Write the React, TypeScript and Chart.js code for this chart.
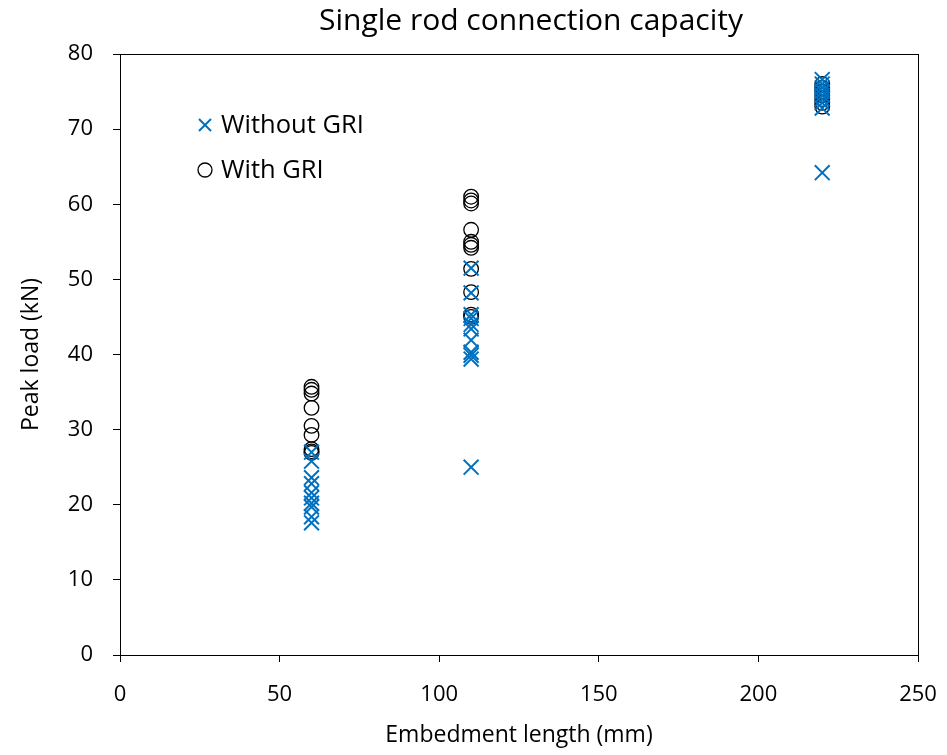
import React, { useEffect, useRef } from "react";
import { Chart, registerables } from "chart.js";

Chart.register(...registerables);

const TITLE = "Single rod connection capacity";
const X_TITLE = "Embedment length (mm)";
const Y_TITLE = "Peak load (kN)";

const SERIES_NAMES = ["Without GRI", "With GRI"];

const withoutX = [
  60, 60, 60, 60, 60, 60, 60, 60, 60, 60,
  110, 110, 110, 110, 110, 110, 110, 110, 110, 110, 110,
  220, 220, 220, 220, 220, 220, 220, 220, 220,
];
const withoutY = [
  27.0, 25.8, 23.6, 22.8, 21.6, 20.9, 20.2, 19.7, 18.4, 17.6,
  51.5, 48.2, 45.3, 44.8, 44.0, 43.4, 41.9, 40.3, 39.9, 39.4, 25.0,
  76.6, 76.0, 75.5, 75.0, 74.5, 74.0, 73.5, 72.8, 64.2,
];

const withX = [
  60, 60, 60, 60, 60, 60, 60, 60, 60,
  110, 110, 110, 110, 110, 110, 110, 110, 110, 110, 110,
  220, 220, 220, 220, 220, 220, 220,
];
const withY = [
  35.7, 35.3, 34.8, 32.9, 30.5, 29.3, 27.4, 27.1, 26.9,
  61.0, 60.5, 60.1, 56.6, 55.0, 54.6, 54.2, 51.4, 48.3, 45.3, 45.0,
  76.0, 75.5, 75.0, 74.5, 74.0, 73.5, 73.0,
];

const BLUE = "rgb(0,112,192)";
const FONT = "'Open Sans', 'Noto Sans', sans-serif";

export default function App() {
  const ref = useRef<HTMLCanvasElement | null>(null);

  useEffect(() => {
    if (!ref.current) return;
    const toPts = (xs: number[], ys: number[]) => xs.map((x, i) => ({ x, y: ys[i] }));

    const boxPlugin = {
      id: "box",
      afterDraw(chart: any) {
        const { ctx, chartArea: a } = chart;
        ctx.save();
        ctx.strokeStyle = "#000";
        ctx.lineWidth = 1;
        ctx.strokeRect(Math.round(a.left) + 0.5, Math.round(a.top) + 0.5, Math.round(a.right - a.left), Math.round(a.bottom - a.top));
        ctx.fillStyle = "#000";
        ctx.font = `30px ${FONT}`;
        ctx.textAlign = "center";
        ctx.textBaseline = "middle";
        ctx.fillText(TITLE, 531, 21);
        ctx.restore();
      },
    };

    const legendPlugin = {
      id: "customLegend",
      afterDraw(chart: any) {
        const { ctx } = chart;
        const items = [
          { name: SERIES_NAMES[0], style: "crossRot", color: BLUE, r: 8.5, w: 2, y: 125 },
          { name: SERIES_NAMES[1], style: "circle", color: "#000", r: 7, w: 1.3, y: 170 },
        ];
        ctx.save();
        items.forEach((it) => {
          ctx.strokeStyle = it.color;
          ctx.lineWidth = it.w;
          ctx.beginPath();
          if (it.style === "circle") {
            ctx.arc(205, it.y, it.r, 0, Math.PI * 2);
          } else {
            const o = it.r * Math.SQRT1_2;
            ctx.moveTo(205 - o, it.y - o);
            ctx.lineTo(205 + o, it.y + o);
            ctx.moveTo(205 - o, it.y + o);
            ctx.lineTo(205 + o, it.y - o);
          }
          ctx.stroke();
          ctx.fillStyle = "#000";
          ctx.font = `25.5px ${FONT}`;
          ctx.textBaseline = "middle";
          ctx.textAlign = "left";
          ctx.fillText(it.name, 221, it.y + 1);
        });
        ctx.restore();
      },
    };

    const chart = new Chart(ref.current, {
      type: "scatter",
      data: {
        datasets: [
          {
            label: SERIES_NAMES[0],
            data: toPts(withoutX, withoutY),
            pointStyle: "crossRot",
            pointRadius: 10.5,
            pointBorderWidth: 2,
            borderColor: BLUE,
            backgroundColor: BLUE,
          },
          {
            label: SERIES_NAMES[1],
            data: toPts(withX, withY),
            pointStyle: "circle",
            pointRadius: 7.3,
            pointBorderWidth: 1.3,
            borderColor: "#000",
            backgroundColor: "rgba(0,0,0,0)",
          },
        ],
      },
      options: {
        animation: false,
        responsive: false,
        maintainAspectRatio: false,
        layout: { padding: { left: 0, right: 29, top: 54, bottom: 0 } },
        plugins: {
          legend: { display: false },
          tooltip: { enabled: false },
          title: { display: false },
        },
        scales: {
          x: {
            type: "linear",
            min: 0,
            max: 250,
            afterFit: (s: any) => {
              s.height = 100;
              s.paddingLeft = 0;
              s.paddingRight = 0;
            },
            ticks: {
              stepSize: 50,
              color: "#000",
              padding: 20,
              font: { family: FONT, size: 22 },
              maxRotation: 0,
            },
            grid: { drawOnChartArea: false, drawTicks: true, tickLength: 7, color: "#000" },
            border: { display: true, color: "#000", width: 1 },
            title: {
              display: true,
              text: X_TITLE,
              color: "#000",
              font: { family: FONT, size: 23 },
              padding: { top: 0, bottom: 6 },
            },
          },
          y: {
            type: "linear",
            min: 0,
            max: 80,
            afterFit: (s: any) => {
              s.width = 120;
              s.paddingTop = 0;
              s.paddingBottom = 0;
            },
            ticks: {
              stepSize: 10,
              color: "#000",
              padding: 20,
              font: { family: FONT, size: 22 },
            },
            grid: { drawOnChartArea: false, drawTicks: true, tickLength: 7, color: "#000" },
            border: { display: true, color: "#000", width: 1 },
            title: {
              display: true,
              text: Y_TITLE,
              color: "#000",
              font: { family: FONT, size: 23 },
              padding: { top: 18, bottom: 0 },
            },
          },
        },
      },
      plugins: [boxPlugin, legendPlugin],
    } as any);

    return () => chart.destroy();
  }, []);

  return (
    <div style={{ position: "absolute", left: 0, top: 0, width: 947, height: 755, background: "#fff" }}>
      <canvas ref={ref} width={947} height={755} style={{ width: 947, height: 755, display: "block" }} />
    </div>
  );
}
